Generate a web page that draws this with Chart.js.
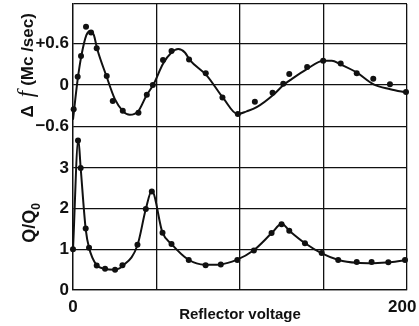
<!DOCTYPE html>
<html>
<head>
<meta charset="utf-8">
<script src="https://cdn.jsdelivr.net/npm/chart.js@4.4.1/dist/chart.umd.min.js"></script>
<style>
  html, body { margin: 0; padding: 0; background: #fff; }
  canvas { display: block; }
</style>
</head>
<body>
<canvas id="chart" width="419" height="326"></canvas>
<script>
// Frequency shift (Mc/sec) against reflector voltage: measured points
const shiftVolts = [0.4, 2.8, 4.8, 7.8, 10.8, 14.2, 20.2, 23.8, 29.8, 39.2, 44.2, 47.8,
  53.9, 59, 69.5, 79.5, 89.5, 98.7, 108.9, 119.5, 125.9, 129.5, 140.2, 149.8,
  160.3, 169.9, 179.8, 189.8, 199.4];
const shiftValues = [-0.35, 0.12, 0.42, 0.84, 0.76, 0.53, 0.13, -0.23, -0.37, -0.40, -0.14, 0.0,
  0.36, 0.49, 0.37, 0.17, -0.18, -0.42, -0.24, -0.11, 0.02, 0.16, 0.26, 0.35,
  0.31, 0.17, 0.09, 0.01, -0.10];

// Frequency shift: fitted curve
const shiftCurveVolts = [0, 2.8, 5, 8, 10.4, 12.5, 14.5, 20, 25, 30, 34, 39, 44, 48, 54, 59, 63, 67, 70, 80,
  90, 98.5, 104, 110, 120, 126, 130, 140, 150, 155, 160, 170, 180, 190, 200];
const shiftCurve = [-0.5, 0.08, 0.42, 0.72, 0.78, 0.72, 0.52, 0.13, -0.2, -0.38, -0.43, -0.38, -0.15, 0.0, 0.31, 0.47, 0.52, 0.47, 0.36, 0.14,
  -0.19, -0.42, -0.38, -0.32, -0.14, 0.0, 0.07, 0.23, 0.35, 0.35, 0.30, 0.18, 0.01, -0.06, -0.11];

// Q/Q0 against reflector voltage: measured points
const qVolts = [0, 3, 4.6, 7.6, 9.6, 14.2, 19.2, 25.2, 29.6, 38.6, 43.6, 47.2, 53.6, 59, 69.3,
  79.4, 88.5, 98.4, 108.3, 118.9, 124.9, 129.5, 138.9, 148.9, 158.8, 169.9, 178.8, 188.8, 198.8];
const qValues = [1.0, 3.68, 3.0, 1.51, 1.04, 0.6, 0.52, 0.5, 0.61, 1.11, 1.99, 2.42, 1.41, 1.13, 0.74,
  0.61, 0.63, 0.74, 0.97, 1.40, 1.62, 1.46, 1.15, 0.91, 0.74, 0.69, 0.69, 0.68, 0.74];

// Q/Q0: fitted curve
const qCurveVolts = [0, 3.2, 4.6, 7.6, 9.6, 14, 19, 25, 30, 38.6, 43.6, 47.2, 53.6, 59, 69,
  79, 88, 98, 108, 119, 125, 129.5, 139, 149, 159, 170, 180, 190, 200];
const qCurve = [1.0, 3.7, 3.0, 1.5, 1.04, 0.62, 0.52, 0.5, 0.6, 1.1, 1.99, 2.44, 1.41, 1.13, 0.75,
  0.62, 0.63, 0.74, 0.97, 1.40, 1.63, 1.46, 1.15, 0.9, 0.74, 0.67, 0.66, 0.68, 0.74];

// axis ticks (trailing spaces pull the last label in from the edge)
const voltTicks = [0, 50, 100, 150, 200];
const voltLabels = ['0', '', '', '', '200  '];
const shiftTicks = [-0.6, 0, 0.6, 1.17];
const shiftLabels = ['\u22120.6', '0', '+0.6', ''];
const qTicks = [0, 1, 2, 3];
const qLabels = ['0', '1', '2', '3'];

const ink = '#111';
const tickFont = { family: '"Liberation Sans", Arial, sans-serif', size: 17, weight: 'bold' };

const toPoints = (xs, ys) => xs.map((x, i) => ({ x, y: ys[i] }));
const fixedTicks = (values) => (scale) => { scale.ticks = values.map(v => ({ value: v })); };
const labelFor = (values, labels) => (v) => {
  const i = values.indexOf(v);
  return i < 0 ? '' : labels[i];
};

// draws the three axis titles (mixed fonts, subscript)
const axisTitles = {
  id: 'axisTitles',
  afterDraw(chart) {
    const { ctx, chartArea, scales } = chart;
    const sans = '"Liberation Sans", Arial, sans-serif';
    ctx.save();
    ctx.fillStyle = ink;

    ctx.font = 'bold 15px ' + sans;
    ctx.textAlign = 'center';
    ctx.textBaseline = 'middle';
    ctx.fillText('Reflector voltage', (chartArea.left + chartArea.right) / 2, chartArea.bottom + 25);

    // Δf (Mc/sec), rotated
    ctx.textAlign = 'left';
    ctx.textBaseline = 'alphabetic';
    const pieces = [
      { t: '\u0394', f: 'bold 17px ' + sans, gap: 8 },
      { t: 'f', f: 'italic 23px "Liberation Serif", serif', gap: 5 },
      { t: '(Mc /sec)', f: 'bold 17px ' + sans, gap: 0 }
    ];
    let total = 0;
    pieces.forEach(p => { ctx.font = p.f; p.w = ctx.measureText(p.t).width; total += p.w + p.gap; });
    const sy = (scales.shift.top + scales.shift.bottom) / 2;
    ctx.save();
    ctx.translate(33, sy);
    ctx.rotate(-Math.PI / 2);
    let x = -total / 2;
    pieces.forEach(p => { ctx.font = p.f; ctx.fillText(p.t, x, 0); x += p.w + p.gap; });
    ctx.restore();

    // Q/Q0, rotated
    const qy = scales.q.getPixelForValue(1.65);
    ctx.save();
    ctx.translate(35, qy);
    ctx.rotate(-Math.PI / 2);
    ctx.font = 'bold 18px ' + sans;
    const qw = ctx.measureText('Q/Q').width;
    ctx.font = 'bold 12px ' + sans;
    const sw = ctx.measureText('0').width;
    const qx = -(qw + sw) / 2;
    ctx.font = 'bold 18px ' + sans;
    ctx.fillText('Q/Q', qx, 0);
    ctx.font = 'bold 12px ' + sans;
    ctx.fillText('0', qx + qw, 5);
    ctx.restore();

    ctx.restore();
  }
};

const gridStyle = { color: ink, lineWidth: 1.3, drawTicks: false };
const borderStyle = { display: true, color: ink, width: 1.3 };

new Chart(document.getElementById('chart'), {
  type: 'scatter',
  data: {
    datasets: [
      {
        data: toPoints(shiftCurveVolts, shiftCurve), yAxisID: 'shift', showLine: true,
        borderColor: ink, borderWidth: 2, pointRadius: 0, cubicInterpolationMode: 'monotone'
      },
      {
        data: toPoints(shiftVolts, shiftValues), yAxisID: 'shift', showLine: false,
        pointRadius: 3, pointBackgroundColor: ink, pointBorderWidth: 0, clip: 4
      },
      {
        data: toPoints(qCurveVolts, qCurve), yAxisID: 'q', showLine: true,
        borderColor: ink, borderWidth: 2, pointRadius: 0, cubicInterpolationMode: 'monotone'
      },
      {
        data: toPoints(qVolts, qValues), yAxisID: 'q', showLine: false,
        pointRadius: 3, pointBackgroundColor: ink, pointBorderWidth: 0, clip: 4
      }
    ]
  },
  options: {
    responsive: false,
    animation: false,
    layout: { padding: { top: 4, right: 12, left: 0, bottom: 0 } },
    plugins: { legend: { display: false }, tooltip: { enabled: false } },
    scales: {
      x: {
        type: 'linear', min: 0, max: 200,
        afterBuildTicks: fixedTicks(voltTicks),
        afterFit: (s) => { s.height = 36; s.paddingLeft = 0; s.paddingRight = 0; },
        ticks: { callback: labelFor(voltTicks, voltLabels), font: tickFont, color: ink, padding: 7, maxRotation: 0, autoSkip: false },
        grid: gridStyle, border: borderStyle
      },
      q: {
        type: 'linear', position: 'left', stack: 'panels', stackWeight: 4, min: 0, max: 4.02,
        afterBuildTicks: fixedTicks(qTicks),
        afterFit: (s) => { s.width = 73; s.paddingTop = 0; s.paddingBottom = 0; },
        ticks: { callback: labelFor(qTicks, qLabels), font: tickFont, color: ink, padding: 4, autoSkip: false },
        grid: gridStyle, border: borderStyle
      },
      shift: {
        type: 'linear', position: 'left', stack: 'panels', stackWeight: 3, min: -0.6, max: 1.17,
        afterBuildTicks: fixedTicks(shiftTicks),
        afterFit: (s) => { s.width = 73; s.paddingTop = 0; s.paddingBottom = 0; },
        ticks: { callback: labelFor(shiftTicks, shiftLabels), font: tickFont, color: ink, padding: 4, autoSkip: false },
        grid: gridStyle, border: borderStyle
      }
    }
  },
  plugins: [axisTitles]
});
</script>
</body>
</html>
